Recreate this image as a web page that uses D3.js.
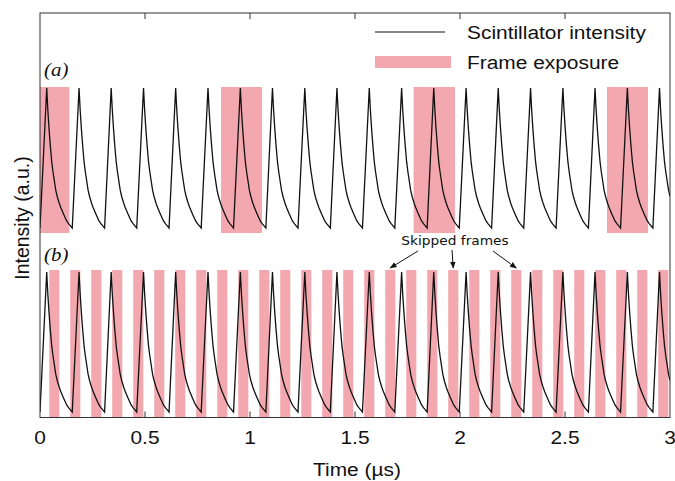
<!DOCTYPE html>
<html>
<head>
<meta charset="utf-8">
<script src="https://cdn.jsdelivr.net/npm/d3@7"></script>
<style>
  body { margin: 0; background: #fff; }
  svg { display: block; }
</style>
</head>
<body>
<svg id="my-svg"></svg>
<script>
// peak times of the scintillator pulses (µs)
const peakTimes = [0.032, 0.186, 0.339, 0.493, 0.646, 0.800, 0.954, 1.107, 1.261, 1.414,
                   1.568, 1.722, 1.875, 2.029, 2.182, 2.336, 2.490, 2.643, 2.797, 2.950];
// one pulse: [time after peak (µs), relative intensity]
const pulseShape = [[-0.032, 0], [0, 1], [0.005, 0.85], [0.011, 0.71], [0.017, 0.59], [0.024, 0.47],
                    [0.03, 0.40], [0.043, 0.27], [0.05, 0.225], [0.06, 0.175], [0.067, 0.146],
                    [0.08, 0.10], [0.095, 0.05], [0.105, 0.03], [0.113, 0.015], [0.1215, 0.0]];
// frame exposures [start, end] in µs
const framesA = [[-0.057, 0.140], [0.862, 1.057], [1.779, 1.976], [2.700, 2.895]];
const framesB = [[0.044, 0.092], [0.144, 0.192], [0.244, 0.292], [0.344, 0.392], [0.444, 0.492],
                 [0.544, 0.592], [0.644, 0.692], [0.744, 0.792], [0.844, 0.892], [0.944, 0.992],
                 [1.044, 1.092], [1.144, 1.192], [1.244, 1.292], [1.344, 1.392], [1.444, 1.492],
                 [1.544, 1.592], [1.644, 1.692], [1.744, 1.792], [1.844, 1.892], [1.944, 1.992],
                 [2.044, 2.092], [2.144, 2.192], [2.244, 2.292], [2.344, 2.392], [2.444, 2.492],
                 [2.544, 2.592], [2.644, 2.692], [2.744, 2.792], [2.844, 2.892], [2.944, 2.992]];
const skipped = [16, 19, 22];
const xTicks = [0, 0.5, 1, 1.5, 2, 2.5, 3];
const xTickLabels = ['0', '0.5', '1', '1.5', '2', '2.5', '3'];

const W = 675, H = 481;
const pLeft = 40, pRight = 670, pTop = 13, pBottom = 417.5;
const pink = '#f3a7ae';
const sans = 'Liberation Sans, Arial, sans-serif';
const serif = 'Liberation Serif, Times New Roman, serif';

let svg = d3.select('#my-svg').attr('width', W).attr('height', H);

let x = d3.scaleLinear().domain([0, 3]).range([pLeft, pRight]);
let yA = d3.scaleLinear().domain([0, 1]).range([228, 88]);
let yB = d3.scaleLinear().domain([0, 1]).range([412, 272]);

// the picture is slightly stretched sideways, so is the text
function label(tx, ty, str, size, family, anchor) {
    return svg.append('text')
        .attr('transform', 'translate(' + tx + ',' + ty + ') scale(1.1,1)')
        .attr('text-anchor', anchor || 'start')
        .attr('font-family', family)
        .attr('font-size', size)
        .attr('fill', '#111')
        .text(str);
}

// build the signal from the peaks and the pulse shape
let signal = [];
peakTimes.forEach((p, i) => {
    pulseShape.forEach((s, j) => {
        if (i > 0 && j === 0) return;
        signal.push([p + s[0], s[1]]);
    });
});
let tail = signal.find(d => d[0] > 3);
signal = signal.filter(d => d[0] >= 0 && d[0] <= 3);
let last = signal[signal.length - 1];
if (tail) {
    let t = (3 - last[0]) / (tail[0] - last[0]);
    signal.push([3, last[1] + t * (tail[1] - last[1])]);
}

svg.append('clipPath').attr('id', 'plotclip')
    .append('rect').attr('x', pLeft).attr('y', pTop).attr('width', pRight - pLeft).attr('height', pBottom - pTop);

let plot = svg.append('g').attr('clip-path', 'url(#plotclip)');

// panel a frames
plot.selectAll('rect.fa')
    .data(framesA)
    .enter().append('rect')
        .attr('class', 'fa')
        .attr('x', d => x(d[0]))
        .attr('width', d => x(d[1]) - x(d[0]))
        .attr('y', 87)
        .attr('height', 146)
        .attr('fill', pink);

// panel b frames
plot.selectAll('rect.fb')
    .data(framesB)
    .enter().append('rect')
        .attr('class', 'fb')
        .attr('x', d => x(d[0]))
        .attr('width', d => x(d[1]) - x(d[0]))
        .attr('y', 270)
        .attr('height', pBottom - 270)
        .attr('fill', pink);

let lineA = d3.line().x(d => x(d[0])).y(d => yA(d[1]));
let lineB = d3.line().x(d => x(d[0])).y(d => yB(d[1]));

plot.append('path').attr('d', lineA(signal))
    .attr('fill', 'none').attr('stroke', '#111').attr('stroke-width', 1.3);
plot.append('path').attr('d', lineB(signal))
    .attr('fill', 'none').attr('stroke', '#111').attr('stroke-width', 1.3);

// frame box
svg.append('rect')
    .attr('x', pLeft).attr('y', pTop)
    .attr('width', pRight - pLeft).attr('height', pBottom - pTop)
    .attr('fill', 'none').attr('stroke', '#333').attr('stroke-width', 1);

// ticks inward, top and bottom
svg.selectAll('line.tb')
    .data(xTicks.slice(1, -1))
    .enter().append('line')
        .attr('class', 'tb')
        .attr('x1', d => x(d)).attr('x2', d => x(d))
        .attr('y1', pBottom).attr('y2', pBottom - 6)
        .attr('stroke', '#333');
svg.selectAll('line.tt')
    .data(xTicks.slice(1, -1))
    .enter().append('line')
        .attr('class', 'tt')
        .attr('x1', d => x(d)).attr('x2', d => x(d))
        .attr('y1', pTop).attr('y2', pTop + 6)
        .attr('stroke', '#333');

xTicks.forEach((d, i) => label(x(d), 444, xTickLabels[i], 19, sans, 'middle'));

label(357, 476, 'Time (µs)', 19, sans, 'middle');

svg.append('text')
    .attr('transform', 'translate(29,218) rotate(-90)')
    .attr('text-anchor', 'middle')
    .attr('font-family', sans)
    .attr('font-size', 19.5).attr('fill', '#111')
    .text('Intensity (a.u.)');

// panel labels
label(44, 76, '(a)', 19, serif).attr('font-style', 'italic');
label(44, 261, '(b)', 19, serif).attr('font-style', 'italic');

// legend
svg.append('line')
    .attr('x1', 375).attr('x2', 445).attr('y1', 32).attr('y2', 32)
    .attr('stroke', '#111').attr('stroke-width', 1.2);
svg.append('rect')
    .attr('x', 375).attr('y', 56).attr('width', 76).attr('height', 12)
    .attr('fill', pink);
label(467, 38.5, 'Scintillator intensity', 19, sans);
label(467, 68.5, 'Frame exposure', 19, sans);

// skipped frames annotation
svg.append('defs').append('marker')
    .attr('id', 'arrow')
    .attr('viewBox', '0 0 10 10')
    .attr('refX', 9).attr('refY', 5)
    .attr('markerWidth', 7).attr('markerHeight', 7)
    .attr('orient', 'auto-start-reverse')
    .append('path').attr('d', 'M0,1 L10,5 L0,9 z').attr('fill', '#111');

label(455, 245, 'Skipped frames', 12.5, 'DejaVu Sans, Verdana, sans-serif', 'middle');

let arrowStarts = [[418, 251], [452, 250], [493, 251]];
svg.selectAll('line.arr')
    .data(skipped)
    .enter().append('line')
        .attr('class', 'arr')
        .attr('x1', (d, i) => arrowStarts[i][0])
        .attr('y1', (d, i) => arrowStarts[i][1])
        .attr('x2', d => x((framesB[d][0] + framesB[d][1]) / 2))
        .attr('y2', 268)
        .attr('stroke', '#111').attr('stroke-width', 1)
        .attr('marker-end', 'url(#arrow)');
</script>
</body>
</html>
